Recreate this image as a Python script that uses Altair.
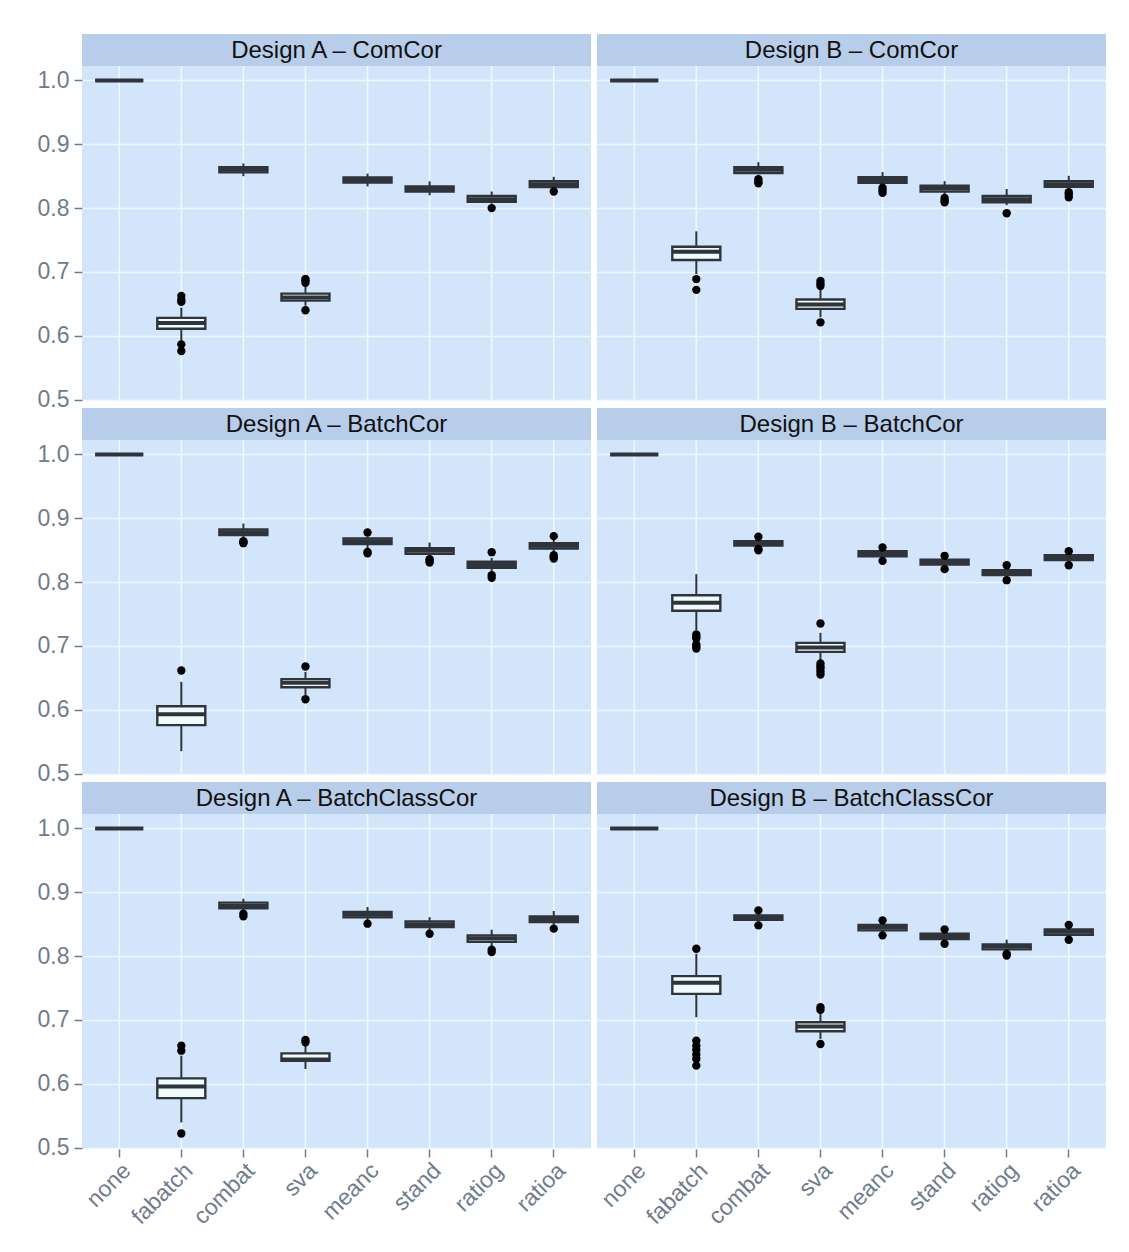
import altair as alt
import pandas as pd

METHODS = ["none", "fabatch", "combat", "sva", "meanc", "stand", "ratiog", "ratioa"]
TITLES = ["Design A – ComCor", "Design B – ComCor",
          "Design A – BatchCor", "Design B – BatchCor",
          "Design A – BatchClassCor", "Design B – BatchClassCor"]

# (lower whisker, q1, median, q3, upper whisker) per method
A_COMCOR_BOX = [(1.0, 1.0, 1.0, 1.0, 1.0), (0.592, 0.611, 0.620, 0.628, 0.644),
                (0.850, 0.856, 0.860, 0.864, 0.870), (0.647, 0.655, 0.660, 0.666, 0.678),
                (0.834, 0.840, 0.844, 0.848, 0.854), (0.820, 0.826, 0.830, 0.834, 0.842),
                (0.807, 0.810, 0.814, 0.819, 0.826), (0.830, 0.833, 0.8375, 0.842, 0.849)]
A_COMCOR_OUT = [[], [0.6625, 0.656, 0.653, 0.5865, 0.576], [], [0.689, 0.6865, 0.683, 0.640],
                [], [], [0.800], [0.826]]

B_COMCOR_BOX = [(1.0, 1.0, 1.0, 1.0, 1.0), (0.6965, 0.7186, 0.7317, 0.7395, 0.7636),
                (0.853, 0.855, 0.860, 0.864, 0.872), (0.629, 0.642, 0.649, 0.6567, 0.673),
                (0.834, 0.8396, 0.844, 0.8485, 0.8564), (0.822, 0.826, 0.831, 0.835, 0.8422),
                (0.8045, 0.8092, 0.814, 0.819, 0.830), (0.828, 0.8333, 0.8375, 0.8422, 0.8506)]
B_COMCOR_OUT = [[], [0.6887, 0.6719], [0.8453, 0.8414, 0.839], [0.686, 0.682, 0.678, 0.621],
                [0.832, 0.828, 0.8239], [0.816, 0.812, 0.8092], [0.792], [0.825, 0.8215, 0.817]]

A_BATCHCOR_BOX = [(1.0, 1.0, 1.0, 1.0, 1.0), (0.535, 0.5758, 0.593, 0.6055, 0.6437),
                  (0.868, 0.8736, 0.878, 0.8824, 0.8918), (0.6228, 0.6353, 0.6421, 0.6479, 0.6594),
                  (0.853, 0.8595, 0.864, 0.8683, 0.871), (0.839, 0.8443, 0.849, 0.8532, 0.862),
                  (0.816, 0.8224, 0.827, 0.8318, 0.838), (0.848, 0.8527, 0.857, 0.861, 0.866)]
A_BATCHCOR_OUT = [[], [0.6614], [0.8642, 0.8625, 0.861], [0.6677, 0.6165],
                  [0.8777, 0.8474, 0.845], [0.836, 0.833, 0.8307], [0.8469, 0.811, 0.8067],
                  [0.872, 0.8422, 0.8395, 0.837]]

B_BATCHCOR_BOX = [(1.0, 1.0, 1.0, 1.0, 1.0), (0.7247, 0.755, 0.7675, 0.7795, 0.8124),
                  (0.855, 0.8574, 0.861, 0.864, 0.867), (0.6776, 0.6907, 0.6975, 0.7048, 0.7205),
                  (0.838, 0.8406, 0.845, 0.8485, 0.852), (0.824, 0.8276, 0.831, 0.835, 0.838),
                  (0.808, 0.8109, 0.815, 0.8187, 0.822), (0.831, 0.8344, 0.838, 0.8422, 0.845)]
B_BATCHCOR_OUT = [[], [0.7179, 0.714, 0.7116, 0.7022, 0.699, 0.6959], [0.871, 0.852, 0.850],
                  [0.7351, 0.6724, 0.668, 0.6646, 0.66, 0.6552], [0.8542, 0.8333],
                  [0.8412, 0.8203], [0.8265, 0.803], [0.8485, 0.8265]]

A_BCC_BOX = [(1.0, 1.0, 1.0, 1.0, 1.0), (0.5393, 0.5775, 0.5958, 0.6084, 0.644),
             (0.870, 0.8749, 0.879, 0.8838, 0.890), (0.623, 0.6361, 0.638, 0.6476, 0.6597),
             (0.856, 0.8607, 0.865, 0.8691, 0.877), (0.841, 0.8455, 0.850, 0.8545, 0.861),
             (0.816, 0.8225, 0.828, 0.8325, 0.8414), (0.849, 0.8534, 0.858, 0.8623, 0.8707)]
A_BCC_OUT = [[], [0.6597, 0.6518, 0.522], [0.8665, 0.8623], [0.6686, 0.665],
             [0.8508], [0.835], [0.81, 0.8063], [0.843]]

B_BCC_BOX = [(1.0, 1.0, 1.0, 1.0, 1.0), (0.7042, 0.7408, 0.7581, 0.7686, 0.8037),
             (0.852, 0.857, 0.861, 0.8639, 0.868), (0.6702, 0.6822, 0.6895, 0.6963, 0.7094),
             (0.836, 0.8403, 0.845, 0.8487, 0.853), (0.8225, 0.8267, 0.831, 0.835, 0.838),
             (0.807, 0.8105, 0.815, 0.8183, 0.8257), (0.830, 0.8335, 0.838, 0.8419, 0.845)]
B_BCC_OUT = [[], [0.8115, 0.6675, 0.6597, 0.653, 0.6455, 0.6387, 0.6283], [0.8717, 0.8482],
             [0.7199, 0.7157, 0.6623], [0.856, 0.8325], [0.8419, 0.8194], [0.8037, 0.801],
             [0.849, 0.8257]]

Y_TICKS = [0.5, 0.55, 0.6, 0.65, 0.7, 0.75, 0.8, 0.85, 0.9, 0.95, 1.0]

FONT = "Liberation Sans"
BG = "#d3e5fb"
STRIP = "#b8cde9"
MAJOR = "#eef8ff"
MINOR = "#e1eefc"
DARK = "#2f343b"
BOXFILL = "#f0fcfc"
AXISCOL = "#6f7c8e"
W, H, SH = 509, 335, 32
BOXW = 48

IS_MINOR = "abs(datum.value*10 - round(datum.value*10)) > 0.001"


def panel(title, box, out, show_y, show_x):
    df = pd.DataFrame([dict(method=m, lo=b[0], q1=b[1], med=b[2], q3=b[3], hi=b[4])
                       for m, b in zip(METHODS, box)])
    od = pd.DataFrame([dict(method=m, v=v) for m, vs in zip(METHODS, out) for v in vs])

    if show_x:
        xaxis = alt.Axis(title=None, labelAngle=-45, labelAlign="right", labelBaseline="top",
                         grid=False, domain=False, ticks=True, tickSize=8, labelPadding=2)
    else:
        xaxis = alt.Axis(title=None, labels=False, ticks=False, domain=False, grid=False)
    if show_y:
        yaxis = alt.Axis(title=None, values=Y_TICKS, domain=False, grid=True,
                         labelExpr=IS_MINOR.replace(">", "<=") + " ? format(datum.value, '.1f') : ''",
                         gridColor={"condition": {"test": IS_MINOR, "value": MINOR}, "value": MAJOR},
                         gridWidth={"condition": {"test": IS_MINOR, "value": 0.8}, "value": 1.6},
                         tickOpacity={"condition": {"test": IS_MINOR, "value": 0}, "value": 1},
                         tickSize=8, labelPadding=5)
    else:
        yaxis = alt.Axis(title=None, values=Y_TICKS, domain=False, grid=True, labels=False,
                         ticks=False,
                         gridColor={"condition": {"test": IS_MINOR, "value": MINOR}, "value": MAJOR},
                         gridWidth={"condition": {"test": IS_MINOR, "value": 0.8}, "value": 1.6})

    x = alt.X("method:N", sort=METHODS,
              scale=alt.Scale(domain=METHODS, paddingInner=0, paddingOuter=0.1), axis=xaxis)
    # data occupy the lower H pixels; the strip sits in the top SH pixels
    yscale = alt.Scale(domain=[0.4977, 1.0227], nice=False, zero=False, range=[SH + H, SH])

    base = alt.Chart(df)
    vgrid = base.mark_rule(color=MAJOR, strokeWidth=1.6).encode(
        x=x, y=alt.value(SH), y2=alt.value(SH + H))
    whisk = base.mark_rule(color=DARK, strokeWidth=2).encode(
        x=x, y=alt.Y("lo:Q", scale=yscale, axis=yaxis), y2="hi:Q")
    boxes = base.mark_bar(size=BOXW, fill=BOXFILL, stroke=DARK, strokeWidth=2.4).encode(
        x=x, y=alt.Y("q1:Q", scale=yscale), y2="q3:Q")
    med = base.mark_tick(size=BOXW, thickness=4, color=DARK, opacity=1).encode(
        x=x, y=alt.Y("med:Q", scale=yscale))
    pts = alt.Chart(od).mark_circle(size=70, color="black", opacity=1).encode(
        x=x, y=alt.Y("v:Q", scale=yscale))

    sdf = pd.DataFrame({"t": [title]})
    srect = alt.Chart(sdf).mark_rect(color=STRIP).encode(
        x=alt.value(0), x2=alt.value(W), y=alt.value(0), y2=alt.value(SH))
    stext = alt.Chart(sdf).mark_text(font=FONT, fontSize=24, color="#111111",
                                     baseline="middle", align="center").encode(
        text="t:N", x=alt.value(W / 2), y=alt.value(SH / 2 + 1))

    return alt.layer(vgrid, whisk, boxes, med, pts, srect, stext).properties(
        width=W, height=SH + H, view=alt.ViewBackground(fill=BG, strokeWidth=0))


SPEC = [(A_COMCOR_BOX, A_COMCOR_OUT), (B_COMCOR_BOX, B_COMCOR_OUT),
        (A_BATCHCOR_BOX, A_BATCHCOR_OUT), (B_BATCHCOR_BOX, B_BATCHCOR_OUT),
        (A_BCC_BOX, A_BCC_OUT), (B_BCC_BOX, B_BCC_OUT)]

cells = []
for i in range(6):
    r, c = divmod(i, 2)
    cells.append(panel(TITLES[i], SPEC[i][0], SPEC[i][1], show_y=(c == 0), show_x=(r == 2)))

chart = alt.concat(*cells, columns=2, spacing={"row": 7, "column": 6}, bounds="flush").properties(
    padding={"left": 37, "top": 34, "right": 10, "bottom": 5},
    background="white",
).configure_axis(
    labelFont=FONT, labelFontSize=23, labelColor=AXISCOL, tickColor=AXISCOL, tickWidth=1.5
).configure_view(strokeWidth=0)

chart.save("out.html", embed_options={"renderer": "svg", "actions": False})
